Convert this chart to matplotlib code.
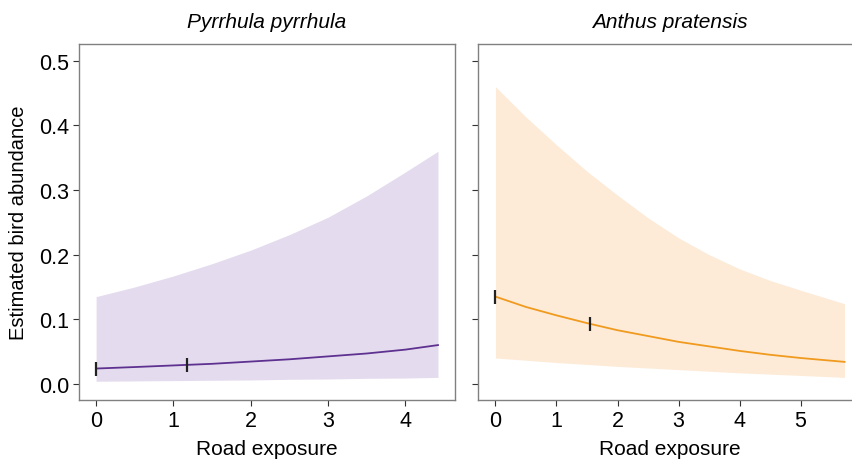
import matplotlib
matplotlib.use("Agg")
import matplotlib.pyplot as plt
import numpy as np

plt.rcParams['font.family'] = ['Liberation Sans', 'DejaVu Sans']

# Pyrrhula pyrrhula
pp_x = [0, 0.5, 1, 1.5, 2, 2.5, 3, 3.5, 4, 4.42]
pp_fit = [0.0237, 0.026, 0.0285, 0.031, 0.0345, 0.038, 0.0425, 0.047, 0.053, 0.060]
pp_lo = [0.004, 0.0045, 0.005, 0.0055, 0.006, 0.007, 0.0075, 0.0085, 0.009, 0.010]
pp_hi = [0.135, 0.150, 0.167, 0.186, 0.207, 0.231, 0.258, 0.291, 0.328, 0.360]
pp_marks = [0, 1.18]

# Anthus pratensis
ap_x = [0, 0.5, 1, 1.5, 2, 2.5, 3, 3.5, 4, 4.5, 5, 5.72]
ap_fit = [0.135, 0.119, 0.106, 0.094, 0.083, 0.074, 0.065, 0.058, 0.051, 0.045, 0.040, 0.034]
ap_lo = [0.040, 0.0365, 0.033, 0.030, 0.027, 0.0245, 0.022, 0.0195, 0.017, 0.015, 0.013, 0.010]
ap_hi = [0.460, 0.413, 0.370, 0.329, 0.292, 0.257, 0.226, 0.200, 0.178, 0.160, 0.145, 0.124]
ap_marks = [0, 1.545]

W, H = 853, 460
fig = plt.figure(figsize=(W / 100, H / 100), dpi=100)

def make_ax(left, right, top=45, bottom=401):
    return fig.add_axes([left / W, (H - bottom) / H, (right - left) / W, (bottom - top) / H])

ax1 = make_ax(79, 455)
ax2 = make_ax(478, 862)

panels = [
    (ax1, pp_x, pp_fit, pp_lo, pp_hi, pp_marks, '#5e3191', '#e4dcee', 'Pyrrhula pyrrhula', (-0.221, 4.64), [0, 1, 2, 3, 4]),
    (ax2, ap_x, ap_fit, ap_lo, ap_hi, ap_marks, '#f09a1e', '#fdebd8', 'Anthus pratensis', (-0.286, 6.006), [0, 1, 2, 3, 4, 5]),
]

for ax, x, fit, lo, hi, marks, lc, fc, title, xlim, xt in panels:
    ax.fill_between(x, lo, hi, color=fc, linewidth=0)
    ax.plot(x, fit, color=lc, linewidth=1.3)
    mk_y = np.interp(marks, x, fit)
    ax.plot(marks, mk_y, linestyle='none', marker='|', markersize=10,
            markeredgewidth=1.6, color='#222222')
    ax.set_xlim(*xlim)
    ax.set_ylim(-0.025, 0.526)
    ax.set_xticks(xt)
    ax.set_yticks([0, 0.1, 0.2, 0.3, 0.4, 0.5])
    for s in ax.spines.values():
        s.set_color('#808080')
        s.set_linewidth(1.0)
    ax.tick_params(length=4, width=0.8, color='#333333', labelsize=15.5, pad=3)
    ax.set_title(title, fontsize=15, style='italic', pad=12)
    ax.set_xlabel('Road exposure', fontsize=15, labelpad=6)

ax1.set_yticklabels(['0.0', '0.1', '0.2', '0.3', '0.4', '0.5'])
ax1.set_ylabel('Estimated bird abundance', fontsize=14.5, labelpad=8)
ax2.set_yticklabels([])

fig.savefig('out.png', dpi=100)
